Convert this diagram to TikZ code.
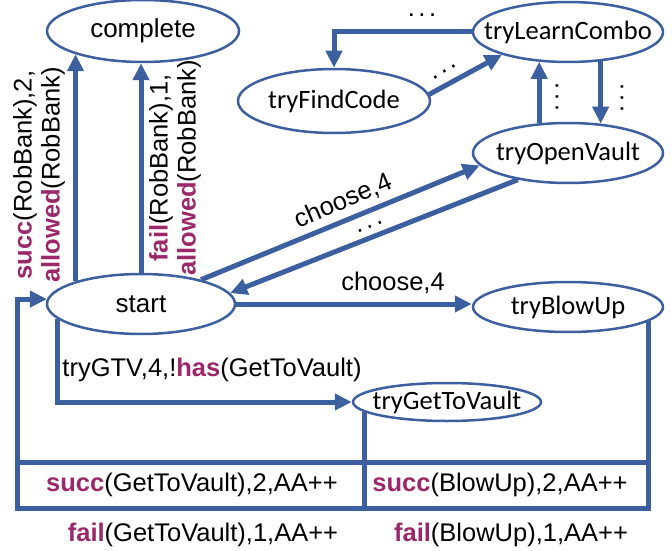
\documentclass[tikz,border=0pt]{standalone}
\usepackage{fontspec}
\setmainfont{Liberation Sans}
\newfontfamily\carl{Carlito}
\usetikzlibrary{arrows.meta,shapes.geometric}
\definecolor{lb}{RGB}{60,95,160}
\definecolor{kwc}{RGB}{155,40,105}
\newcommand\kw[1]{\textcolor{kwc}{\textbf{#1}}}
\newcommand\zw[1]{\makebox[0pt]{#1}}
\newcommand\dd{.\kern3.5pt.\kern3.5pt.}
\begin{document}
\begin{tikzpicture}[x=1pt,y=-1pt,
  st/.style={ellipse, draw=lb, line width=2.5pt, fill=white, inner sep=0pt, font=\fontsize{26}{30}\selectfont},
  cs/.style={st, font=\carl\fontsize{26.5}{30}\selectfont},
  conn/.style={draw=lb, line width=5pt, -{Triangle[length=17pt,width=16pt]}},
  wire/.style={draw=lb, line width=5pt},
  lab/.style={font=\fontsize{25.5}{28}\selectfont, inner sep=0pt},
]
\useasboundingbox (0,0) rectangle (672,551);
% states
\node[st, minimum width=192pt, minimum height=62pt] (complete) at (143,31) {\zw{complete}};
\node[st, minimum width=188pt, minimum height=60pt] (start) at (141,304) {\zw{start}};
\node[cs, minimum width=192pt, minimum height=64pt] (tryFindCode) at (334,101) {\zw{tryFindCode}};
\node[cs, minimum width=190pt, minimum height=60pt] (tryLearnCombo) at (568,32) {\zw{tryLearnCombo}};
\node[cs, minimum width=190pt, minimum height=60pt] (tryOpenVault) at (568,153) {\zw{tryOpenVault}};
\node[cs, minimum width=190pt, minimum height=50pt] (tryBlowUp) at (568,307) {\zw{tryBlowUp}};
\node[cs, minimum width=188pt, minimum height=38pt] (tryGetToVault) at (447,402) {\zw{tryGetToVault}};
% connectors
\draw[conn] (start.161 -| complete.199) -- (complete.199);
\draw[conn] (start.north) -- (start.north |- complete.south);
\draw[conn] (tryLearnCombo.west) -| (tryFindCode.north);
\draw[conn] (tryFindCode.4) -- (tryLearnCombo.199);
\draw[conn] (tryOpenVault.134) -- (tryOpenVault.134 |- tryLearnCombo.226);
\draw[conn] (tryLearnCombo.318) -- (tryLearnCombo.318 |- tryOpenVault.42);
\draw[conn] (start.22) -- (tryOpenVault.188);
\draw[conn] (tryOpenVault.208) -- (start.7);
\draw[conn] (start.east) -- (start.east -| tryBlowUp.west);
\draw[conn] (start.190) |- (tryGetToVault.west);
\coordinate (botL) at (17,508);
\coordinate (midL) at (17,462);
\draw[conn] (tryBlowUp.350) |- (botL) |- (start.177);
\draw[wire] (midL) -- (midL -| tryBlowUp.350);
\draw[wire] (tryGetToVault.187) -- (tryGetToVault.187 |- botL);
% labels
\node[lab, rotate=90, align=center] (lsucc) at (39,175) {\kw{succ}(RobBank),2,\\\kw{allowed}(RobBank)};
\node[lab, rotate=90, align=center] (lfail) at (175,168) {\kw{fail}(RobBank),1,\\\kw{allowed}(RobBank)};
\node[lab] (d1) at (422,15) {\dd};
\node[lab, rotate=31] (d2) at (445,72) {\dd};
\node[lab, rotate=90] (d3) at (557,97) {\dd};
\node[lab, rotate=90] (d4) at (622,98) {\dd};
\node[lab, rotate=23] (lch1) at (343,201) {choose,4};
\node[lab, rotate=22] (d5) at (370,227) {\dd};
\node[lab] (lch2) at (393,283) {choose,4};
\node[lab] (lgtv) at (212,370) {tryGTV,4,!\kw{has}(GetToVault)};
\node[lab] (s1) at (192,485) {\kw{succ}(GetToVault),2,AA++};
\node[lab] (s2) at (500,485) {\kw{succ}(BlowUp),2,AA++};
\node[lab] (f1) at (203,535) {\kw{fail}(GetToVault),1,AA++};
\node[lab] (f2) at (511,535) {\kw{fail}(BlowUp),1,AA++};
\end{tikzpicture}
\end{document}
